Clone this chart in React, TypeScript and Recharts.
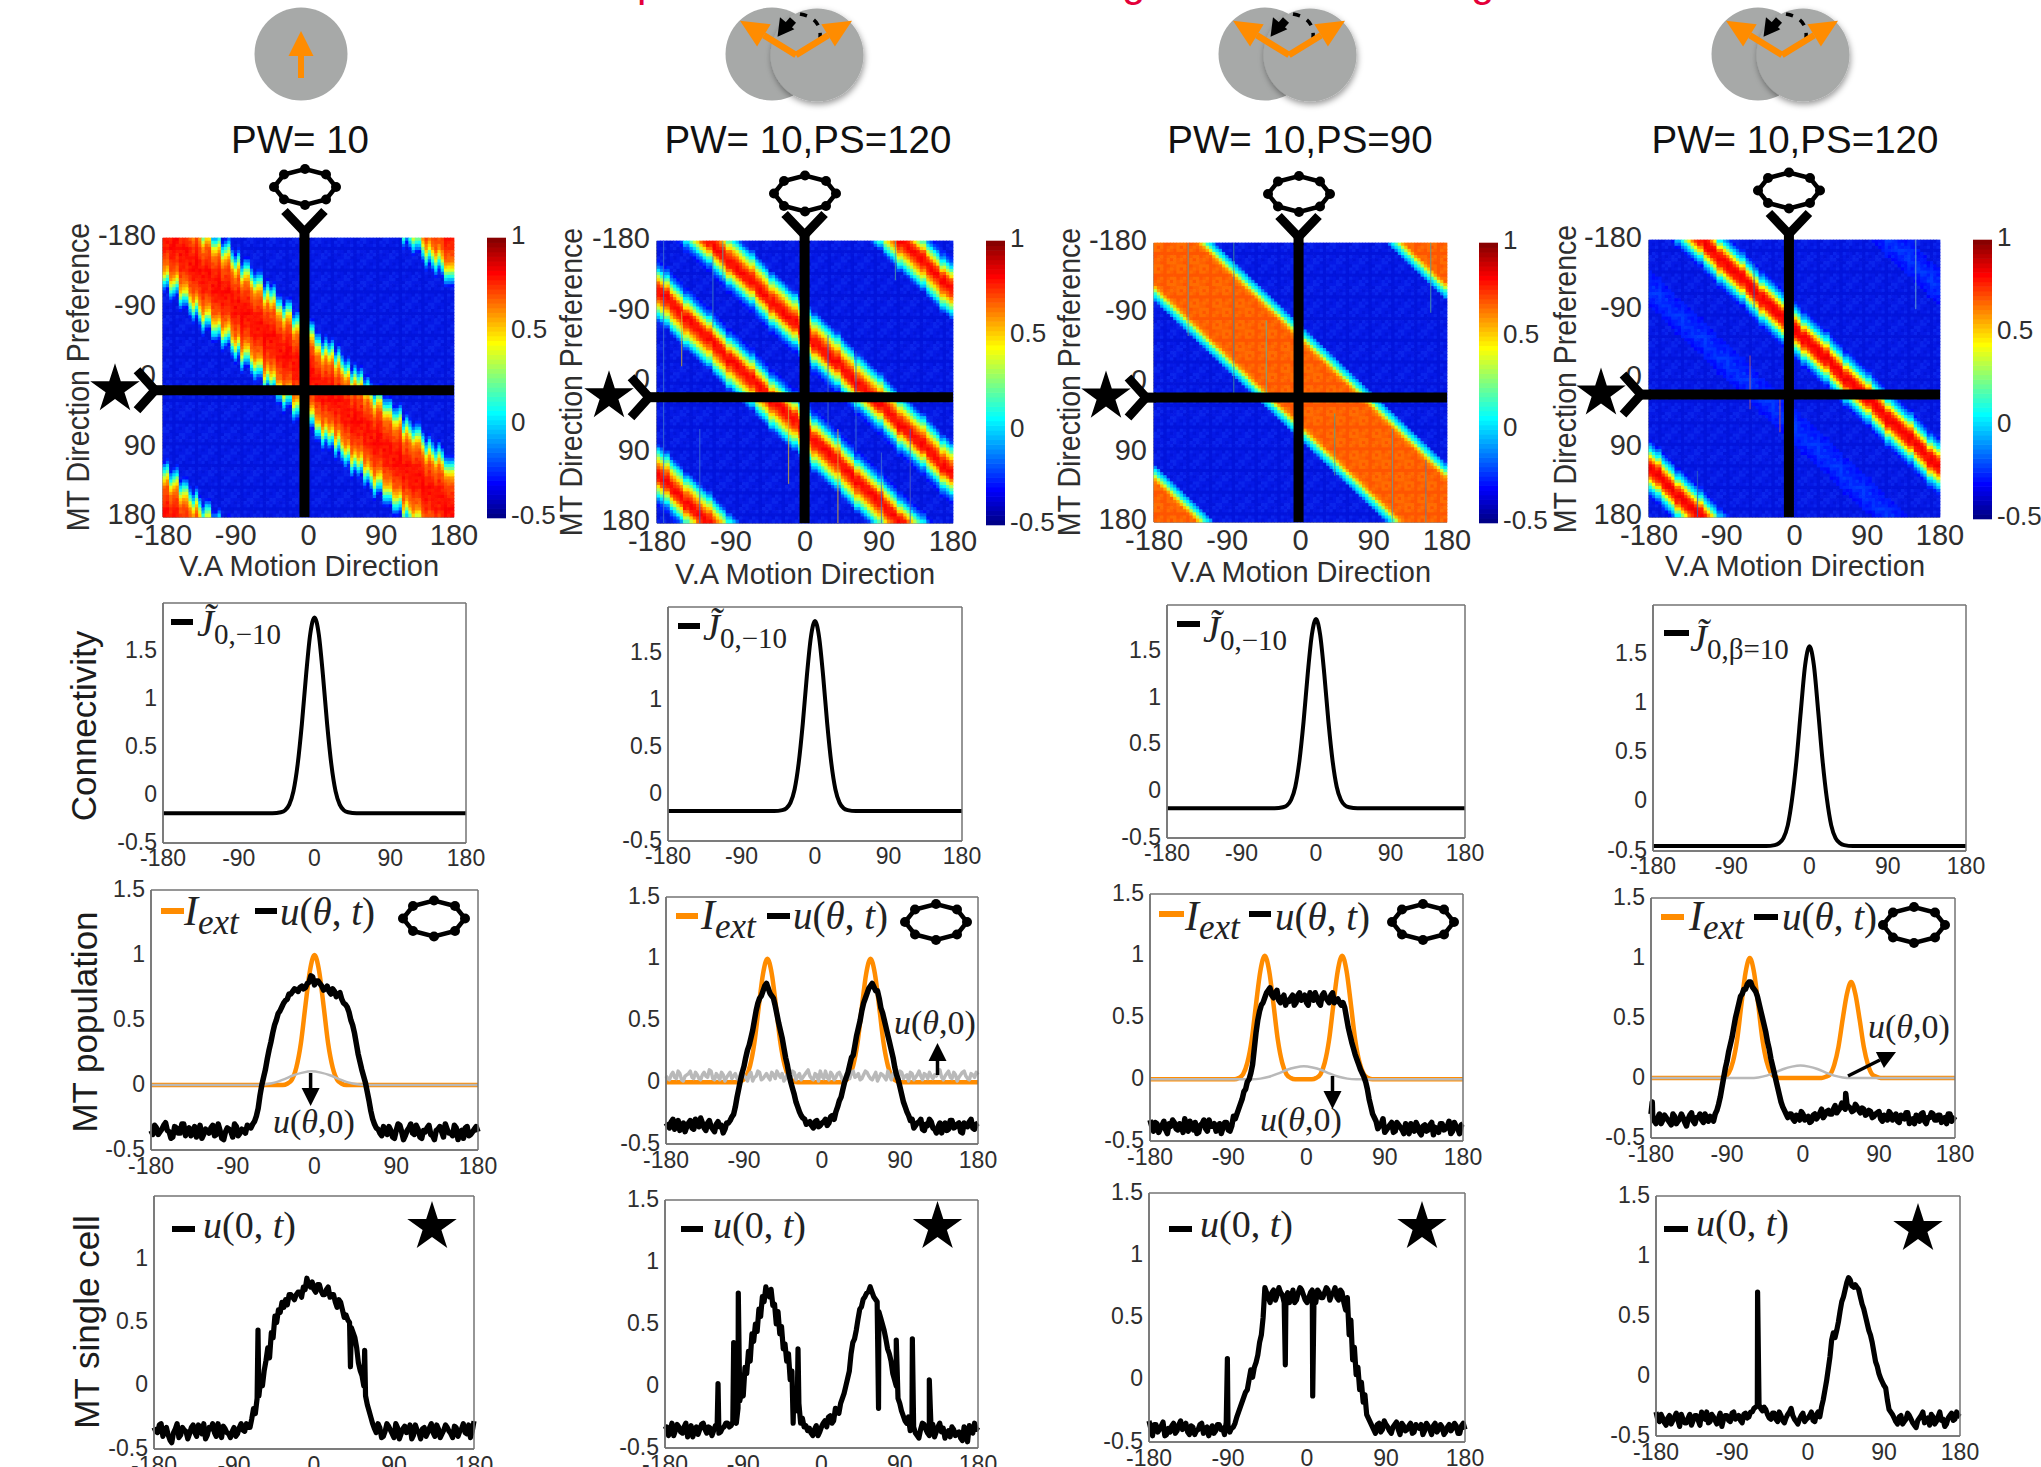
import React from "react";
import {
  Line,
  LineChart,
  Scatter,
  ScatterChart,
  XAxis,
  YAxis,
} from "recharts";

// Angles in degrees
const ANGLE_TICKS = [-180, -90, 0, 90, 180];
const KERNEL_TICKS = [-0.5, 0, 0.5, 1, 1.5];
const ACTIVITY_TICKS = [-0.5, 0, 0.5, 1, 1.5];
const ACTIVITY_TICKS_CUT = [-0.5, 0, 0.5, 1];
const COLORBAR_TICKS = [-0.5, 0, 0.5, 1];

const THETA = [
  -180, -176, -172, -168, -164, -160, -156, -152, -148, -144, -140, -136, -132, -128, -124, -120, -116, -112, -108, -104,
  -100, -96, -92, -88, -84, -80, -76, -72, -68, -64, -60, -56, -52, -48, -44, -40, -36, -32, -28, -24, -20, -16, -12, -8, -4,
  0, 4, 8, 12, 16, 20, 24, 28, 32, 36, 40, 44, 48, 52, 56, 60, 64, 68, 72, 76, 80, 84, 88, 92, 96, 100, 104, 108, 112, 116,
  120, 124, 128, 132, 136, 140, 144, 148, 152, 156, 160, 164, 168, 172, 176, 180,
];

// -178 .. 178: heatmap bins, and the in-between samples of the noisy curves
const HEAT_BINS = [
  -178, -174, -170, -166, -162, -158, -154, -150, -146, -142, -138, -134, -130, -126, -122, -118, -114, -110, -106, -102,
  -98, -94, -90, -86, -82, -78, -74, -70, -66, -62, -58, -54, -50, -46, -42, -38, -34, -30, -26, -22, -18, -14, -10, -6, -2,
  2, 6, 10, 14, 18, 22, 26, 30, 34, 38, 42, 46, 50, 54, 58, 62, 66, 70, 74, 78, 82, 86, 90, 94, 98, 102, 106, 110, 114, 118,
  122, 126, 130, 134, 138, 142, 146, 150, 154, 158, 162, 166, 170, 174, 178,
];

const COLORBAR_LEVELS = [
  -0.4875, -0.4625, -0.4375, -0.4125, -0.3875, -0.3625, -0.3375, -0.3125, -0.2875, -0.2625, -0.2375, -0.2125, -0.1875, -0.1625, -0.1375,
  -0.1125, -0.0875, -0.0625, -0.0375, -0.0125, 0.0125, 0.0375, 0.0625, 0.0875, 0.1125, 0.1375, 0.1625, 0.1875, 0.2125, 0.2375,
  0.2625, 0.2875, 0.3125, 0.3375, 0.3625, 0.3875, 0.4125, 0.4375, 0.4625, 0.4875, 0.5125, 0.5375, 0.5625, 0.5875, 0.6125,
  0.6375, 0.6625, 0.6875, 0.7125, 0.7375, 0.7625, 0.7875, 0.8125, 0.8375, 0.8625, 0.8875, 0.9125, 0.9375, 0.9625, 0.9875,
];

// Heatmap profiles: activity against (preference - motion direction), -180 .. 176 in 4 degree bins
const PROFILE_1 = [
  -0.33, -0.33, -0.33, -0.33, -0.33, -0.33, -0.33, -0.33, -0.33, -0.33, -0.33, -0.33, -0.33, -0.33, -0.33, -0.33, -0.33, -0.33, -0.33, -0.33, -0.33, -0.33, -0.33, -0.33, -0.33, -0.33, -0.33,
  -0.28, -0.15, -0.02, 0.1, 0.24, 0.38, 0.5, 0.58, 0.64, 0.68, 0.7, 0.72, 0.74, 0.76, 0.77, 0.78, 0.79, 0.8, 0.8, 0.79, 0.78, 0.77, 0.76, 0.74, 0.72, 0.7, 0.68, 0.64, 0.58, 0.5, 0.38, 0.24, 0.1, -0.02, -0.15, -0.28,
  -0.33, -0.33, -0.33, -0.33, -0.33, -0.33, -0.33, -0.33, -0.33, -0.33, -0.33, -0.33, -0.33, -0.33, -0.33, -0.33, -0.33, -0.33, -0.33, -0.33, -0.33, -0.33, -0.33, -0.33, -0.33, -0.33, -0.33,
];
const PROFILE_2 = [
  -0.33, -0.33, -0.33, -0.33, -0.33, -0.33, -0.33, -0.33, -0.33, -0.33, -0.33, -0.33, -0.33, -0.33, -0.33, -0.33, -0.33, -0.33,
  -0.33, -0.3, -0.2, -0.05, 0.08, 0.22, 0.36, 0.5, 0.62, 0.7, 0.76, 0.8, 0.8, 0.76, 0.66, 0.5, 0.34, 0.18, 0.04, -0.1, -0.2, -0.28, -0.32,
  -0.33, -0.33, -0.33, -0.33, -0.33, -0.33, -0.33, -0.33, -0.33,
  -0.32, -0.28, -0.2, -0.1, 0.04, 0.18, 0.34, 0.5, 0.66, 0.76, 0.8, 0.8, 0.76, 0.7, 0.62, 0.5, 0.36, 0.22, 0.08, -0.05, -0.2, -0.3,
  -0.33, -0.33, -0.33, -0.33, -0.33, -0.33, -0.33, -0.33, -0.33, -0.33, -0.33, -0.33, -0.33, -0.33, -0.33, -0.33, -0.33, -0.33,
];
const PROFILE_3 = [
  -0.36, -0.36, -0.36, -0.36, -0.36, -0.36, -0.36, -0.36, -0.36, -0.36, -0.36, -0.36, -0.36, -0.36, -0.36, -0.36, -0.36, -0.36, -0.36, -0.36, -0.36, -0.36, -0.36, -0.36, -0.36, -0.36,
  -0.3, -0.1, 0.02, 0.15, 0.35, 0.55, 0.65,
  0.67, 0.67, 0.67, 0.67, 0.67, 0.67, 0.67, 0.67, 0.67, 0.67, 0.67, 0.67, 0.67, 0.67, 0.67, 0.67, 0.67, 0.67, 0.67, 0.67, 0.67, 0.67, 0.67, 0.67, 0.67,
  0.65, 0.55, 0.35, 0.15, 0.02, -0.1, -0.3,
  -0.36, -0.36, -0.36, -0.36, -0.36, -0.36, -0.36, -0.36, -0.36, -0.36, -0.36, -0.36, -0.36, -0.36, -0.36, -0.36, -0.36, -0.36, -0.36, -0.36, -0.36, -0.36, -0.36, -0.36, -0.36,
];
const PROFILE_4 = [
  -0.33, -0.33, -0.33, -0.33, -0.33, -0.33, -0.33, -0.33, -0.33, -0.33, -0.33, -0.33, -0.33, -0.33, -0.33, -0.33, -0.33, -0.33, -0.33, -0.33,
  -0.28, -0.16, -0.04, 0.08, 0.26, 0.46, 0.62, 0.75, 0.8, 0.82, 0.8, 0.75, 0.62, 0.46, 0.26, 0.08, -0.04, -0.16, -0.28,
  -0.33, -0.33, -0.33, -0.33, -0.33, -0.33, -0.33, -0.33, -0.33, -0.33, -0.33, -0.33, -0.33, -0.33,
  -0.32, -0.31, -0.29, -0.28, -0.27, -0.26, -0.25, -0.24, -0.24, -0.25, -0.26, -0.27, -0.28, -0.29, -0.31, -0.32,
  -0.33, -0.33, -0.33, -0.33, -0.33, -0.33, -0.33, -0.33, -0.33, -0.33, -0.33, -0.33, -0.33, -0.33, -0.33, -0.33, -0.33, -0.33, -0.33, -0.33, -0.33,
];

// column by column wobble of the band edge, in bins
const WOBBLE_1 = [
  0, 2, -1, 1, 3, -1, 1, 2, 0, -1, 2, 0, -2, 1, 2, -1, 0, 2, -1, 1, 3, 0, -1, 2, -2, 1, 2, 0, -1, 1,
  2, -2, 1, 0, 2, -1, 0, -2, 1, 2, -2, 0, 1, -1, 0, 1, 2, -1, 0, -2, 1, 0, 2, -1, 2, 0, -1, 1, -2, 1,
  0, 2, -1, 1, 0, -2, 1, 2, -1, 0, 1, -1, 0, 2, -2, 1, 0, -1, 1, 2, 0, -2, 1, 0, -1, 2, 1, -1, 0, 1,
];
const WOBBLE_2 = [0, 0, 0, 1, 0, 0, 0, 0, -1, 0, 0, 0, 0];
const WOBBLE_NONE = [0];

// thin columns that fall out of the band: [direction, from preference, to preference, colour]
const STREAKS_2 = [
  [-172, -180, 180, "#3f6fd0"], [-150, -90, -20, "#d0b030"], [-112, -160, -70, "#4080c0"], [-128, 60, 180, "#3f6fd0"], [-100, -180, -130, "#50a0a0"],
  [-20, 30, 130, "#d0b030"], [28, -60, 60, "#3f6fd0"], [40, 60, 180, "#d8b030"], [62, -40, 90, "#3f6fd0"], [93, 90, 180, "#3f6fd0"], [128, 60, 180, "#5060c0"], [110, -180, -130, "#50a0a0"],
];
const STREAKS_3 = [
  [-138, -180, -60, "#60a0a0"], [-82, -180, 20, "#4090a0"], [-42, -80, 20, "#60b0a0"], [42, 40, 120, "#50a090"], [113, 60, 180, "#60a0a0"], [154, 100, 180, "#6080a0"], [160, -180, -90, "#50a0a0"],
];
const STREAKS_4 = [
  [-50, -150, -90, "#2060c0"], [-55, -30, 40, "#b06070"], [-18, 20, 70, "#c06060"], [150, -180, -90, "#70b0d0"], [-120, 120, 180, "#3060c0"], [-10, -110, -60, "#3060c0"],
];

// Connectivity kernel
const KERNEL_THETA = [-180, -50, -40, -35, -30, -25, -20, -15, -10, -5, 0, 5, 10, 15, 20, 25, 30, 35, 40, 50, 180];
const KERNEL_1 = [-0.19, -0.19, -0.18, -0.16, -0.1, 0.04, 0.32, 0.74, 1.25, 1.68, 1.85, 1.68, 1.25, 0.74, 0.32, 0.04, -0.1, -0.16, -0.18, -0.19, -0.19];
const KERNEL_2 = [-0.18, -0.18, -0.17, -0.15, -0.09, 0.05, 0.33, 0.75, 1.26, 1.68, 1.85, 1.68, 1.26, 0.75, 0.33, 0.05, -0.09, -0.15, -0.17, -0.18, -0.18];
const KERNEL_3 = [-0.18, -0.18, -0.17, -0.15, -0.09, 0.05, 0.33, 0.75, 1.26, 1.68, 1.85, 1.68, 1.26, 0.75, 0.33, 0.05, -0.09, -0.15, -0.17, -0.18, -0.18];
const KERNEL_4 = [-0.45, -0.45, -0.44, -0.42, -0.37, -0.24, 0.03, 0.42, 0.92, 1.39, 1.58, 1.39, 0.92, 0.42, 0.03, -0.24, -0.37, -0.42, -0.44, -0.45, -0.45];

// External input
const INPUT_THETA_1 = [-180, -35, -30, -25, -20, -15, -10, -5, 0, 5, 10, 15, 20, 25, 30, 35, 180];
const INPUT_1 = [0, 0, 0.01, 0.04, 0.135, 0.32, 0.61, 0.88, 1, 0.88, 0.61, 0.32, 0.135, 0.04, 0.01, 0, 0];
const INPUT_THETA_2 = [-180, -98, -93, -88, -83, -78, -73, -68, -63, -58, -53, -48, -43, -38, -33, -28, 21, 26, 31, 36, 41, 46, 51, 56, 61, 66, 71, 76, 81, 86, 91, 180];
const INPUT_2 = [0, 0, 0.01, 0.04, 0.135, 0.32, 0.61, 0.88, 1, 0.88, 0.61, 0.32, 0.135, 0.04, 0.01, 0, 0, 0.01, 0.04, 0.135, 0.32, 0.61, 0.88, 1, 0.88, 0.61, 0.32, 0.135, 0.04, 0.01, 0, 0];
const INPUT_THETA_3 = [-180, -83, -78, -73, -68, -63, -58, -53, -48, -43, -38, -33, -28, -23, -18, -13, 6, 11, 16, 21, 26, 31, 36, 41, 46, 51, 56, 61, 66, 71, 76, 180];
const INPUT_3 = [0, 0, 0.01, 0.04, 0.135, 0.32, 0.61, 0.88, 1, 0.88, 0.61, 0.32, 0.135, 0.04, 0.01, 0, 0, 0.01, 0.04, 0.135, 0.32, 0.61, 0.88, 1, 0.88, 0.61, 0.32, 0.135, 0.04, 0.01, 0, 0];
const INPUT_THETA_4 = [-180, -98, -93, -88, -83, -78, -73, -68, -63, -58, -53, -48, -43, -38, -33, -28, 22, 27, 32, 37, 42, 47, 52, 57, 62, 67, 72, 77, 82, 87, 92, 180];
const INPUT_4 = [0, 0, 0.01, 0.04, 0.135, 0.32, 0.61, 0.88, 1, 0.88, 0.61, 0.32, 0.135, 0.04, 0.01, 0, 0, 0.01, 0.03, 0.11, 0.26, 0.49, 0.7, 0.8, 0.7, 0.49, 0.26, 0.11, 0.03, 0.01, 0, 0];

// Initial state u(theta, 0)
const START_THETA = [-180, -63, -53, -43, -33, -23, -13, -3, 7, 17, 27, 37, 47, 57, 180];
const START_VALUES = [0, 0, 0.005, 0.02, 0.045, 0.075, 0.095, 0.105, 0.095, 0.075, 0.045, 0.02, 0.005, 0, 0];
const START_NOISY = [
  0.05, 0.02, 0.08, 0.03, 0.07, 0.01, 0.06, 0.09, 0.03, 0.06, 0.02, 0.08, 0.04, 0.09, 0.02, 0.05, 0.08, 0.01, 0.06, 0.03,
  0.07, 0.02, 0.09, 0.04, 0.06, 0.01, 0.05, 0.08, 0.03, 0.07, 0.02, 0.06, 0.09, 0.04, 0.01, 0.07, 0.03, 0.08, 0.05, 0.02,
  0.06, 0.1, 0.03, 0.07, 0.01, 0.05, 0.09, 0.02, 0.06, 0.04, 0.08, 0.01, 0.07, 0.03, 0.09, 0.05, 0.02, 0.06, 0.08, 0.03,
  0.05, 0.01, 0.07, 0.04, 0.09, 0.02, 0.06, 0.03, 0.08, 0.05, 0.01, 0.07, 0.04, 0.09, 0.02, 0.06, 0.08, 0.03, 0.05, 0.1,
  0.02, 0.07, 0.04, 0.08, 0.01, 0.06, 0.09, 0.03, 0.07, 0.04, 0.06,
];
const START_NOISY_FINE = [
  0.03, 0.06, 0.04, 0.09, 0.02, 0.05, 0.07, 0.04, 0.08, 0.03, 0.06, 0.05, 0.1, 0.03, 0.07, 0.02, 0.06, 0.04, 0.08, 0.05,
  0.03, 0.07, 0.05, 0.01, 0.08, 0.04, 0.09, 0.02, 0.05, 0.04, 0.08, 0.03, 0.06, 0.07, 0.03, 0.05, 0.09, 0.02, 0.07, 0.04,
  0.08, 0.05, 0.02, 0.06, 0.09, 0.03, 0.04, 0.08, 0.02, 0.07, 0.05, 0.03, 0.06, 0.08, 0.04, 0.07, 0.03, 0.09, 0.05, 0.02,
  0.08, 0.04, 0.06, 0.02, 0.05, 0.07, 0.04, 0.09, 0.03, 0.06, 0.08, 0.02, 0.06, 0.05, 0.07, 0.03, 0.05, 0.06, 0.08, 0.04,
  0.05, 0.09, 0.03, 0.06, 0.04, 0.08, 0.05, 0.02, 0.06, 0.08,
];

// Population activity u(theta, t), on THETA and on HEAT_BINS
const POPULATION_1 = [
  -0.35, -0.31, -0.38, -0.34, -0.29, -0.36, -0.4, -0.33, -0.37, -0.3, -0.35, -0.39, -0.32, -0.36, -0.41, -0.34, -0.37, -0.31, -0.38, -0.35, -0.42, -0.33, -0.36, -0.3, -0.39, -0.34, -0.37, -0.32, -0.3,
  -0.24, -0.08, 0.06, 0.2, 0.33, 0.46, 0.55, 0.6, 0.65, 0.7, 0.72, 0.73, 0.75, 0.74, 0.78, 0.84, 0.77, 0.8, 0.76, 0.74, 0.72, 0.74, 0.68, 0.71, 0.63, 0.6, 0.5, 0.4, 0.24, 0.12, 0.02, -0.12, -0.26, -0.33,
  -0.37, -0.32, -0.38, -0.35, -0.41, -0.3, -0.36, -0.39, -0.33, -0.37, -0.31, -0.4, -0.35, -0.33, -0.38, -0.42, -0.34, -0.36, -0.3, -0.37, -0.39, -0.33, -0.36, -0.41, -0.32, -0.38, -0.34, -0.36,
];
const POPULATION_FINE_1 = [
  -0.38, -0.33, -0.36, -0.31, -0.35, -0.41, -0.32, -0.37, -0.3, -0.39, -0.33, -0.36, -0.4, -0.31, -0.38, -0.35, -0.33, -0.39, -0.3, -0.41, -0.36, -0.34, -0.4, -0.32, -0.37, -0.35, -0.31, -0.33,
  -0.28, -0.18, 0, 0.12, 0.27, 0.4, 0.5, 0.57, 0.63, 0.66, 0.7, 0.74, 0.72, 0.76, 0.75, 0.79, 0.83, 0.8, 0.78, 0.73, 0.76, 0.7, 0.72, 0.7, 0.66, 0.62, 0.56, 0.46, 0.32, 0.18, 0.07, -0.05, -0.2, -0.3,
  -0.34, -0.39, -0.36, -0.32, -0.4, -0.35, -0.31, -0.42, -0.35, -0.3, -0.38, -0.34, -0.41, -0.36, -0.31, -0.39, -0.35, -0.32, -0.4, -0.34, -0.37, -0.31, -0.42, -0.35, -0.33, -0.39, -0.36, -0.32,
];
const POPULATION_2 = [
  -0.33, -0.37, -0.3, -0.35, -0.39, -0.33, -0.36, -0.31, -0.38, -0.34, -0.29, -0.37, -0.33, -0.36, -0.4, -0.32, -0.35, -0.38,
  -0.33, -0.28, -0.2, -0.05, 0.08, 0.2, 0.3, 0.42, 0.58, 0.68, 0.74, 0.8, 0.72, 0.68, 0.55, 0.42, 0.28, 0.14, 0, -0.1, -0.2, -0.27, -0.3, -0.33, -0.35, -0.32, -0.36, -0.33, -0.3, -0.33, -0.27, -0.24, -0.15, -0.06, 0.04, 0.14, 0.22, 0.38, 0.5, 0.64, 0.72, 0.78, 0.77, 0.74, 0.6, 0.5, 0.38, 0.26, 0.12, 0.02, -0.1, -0.2, -0.27, -0.3,
  -0.35, -0.32, -0.38, -0.34, -0.3, -0.37, -0.41, -0.33, -0.36, -0.39, -0.31, -0.37, -0.34, -0.4, -0.33, -0.36, -0.3, -0.38, -0.33,
];
const POPULATION_FINE_2 = [
  -0.35, -0.32, -0.38, -0.31, -0.36, -0.4, -0.33, -0.37, -0.3, -0.36, -0.33, -0.39, -0.31, -0.38, -0.34, -0.36, -0.41, -0.33,
  -0.31, -0.26, -0.12, 0.02, 0.13, 0.26, 0.36, 0.5, 0.64, 0.7, 0.78, 0.76, 0.7, 0.62, 0.48, 0.36, 0.2, 0.06, -0.05, -0.16, -0.24, -0.29, -0.34, -0.32, -0.37, -0.31, -0.35, -0.32, -0.35, -0.28, -0.3, -0.2, -0.12, 0, 0.08, 0.2, 0.3, 0.44, 0.58, 0.68, 0.76, 0.8, 0.74, 0.68, 0.56, 0.44, 0.32, 0.2, 0.06, -0.04, -0.16, -0.24, -0.31,
  -0.37, -0.33, -0.3, -0.39, -0.35, -0.32, -0.38, -0.36, -0.41, -0.33, -0.38, -0.31, -0.36, -0.33, -0.41, -0.35, -0.32, -0.37, -0.34,
];
const POPULATION_3 = [
  -0.33, -0.42, -0.36, -0.4, -0.34, -0.44, -0.38, -0.35, -0.41, -0.37, -0.32, -0.42, -0.39, -0.35, -0.43, -0.36, -0.4, -0.33, -0.38, -0.42, -0.36, -0.39, -0.35,
  -0.42, -0.3, -0.28, -0.2, -0.1, -0.02, 0.05, 0.25, 0.48, 0.6, 0.66, 0.72, 0.68, 0.7, 0.64, 0.66, 0.6, 0.63, 0.68, 0.62, 0.7, 0.66, 0.62, 0.7, 0.64, 0.66, 0.6, 0.7, 0.64, 0.68, 0.62, 0.65, 0.6, 0.58, 0.42, 0.3, 0.2, 0.12, 0.05, -0.02, -0.16, -0.28,
  -0.34, -0.38, -0.32, -0.41, -0.37, -0.43, -0.35, -0.39, -0.44, -0.4, -0.36, -0.42, -0.38, -0.45, -0.37, -0.41, -0.35, -0.39, -0.43, -0.36, -0.4, -0.34, -0.42, -0.38, -0.44, -0.36,
];
const POPULATION_FINE_3 = [
  -0.38, -0.35, -0.43, -0.37, -0.41, -0.36, -0.33, -0.4, -0.36, -0.43, -0.38, -0.34, -0.41, -0.44, -0.37, -0.33, -0.42, -0.38, -0.36, -0.4, -0.44, -0.35, -0.41,
  -0.38, -0.32, -0.24, -0.16, -0.08, 0, 0.12, 0.38, 0.55, 0.62, 0.7, 0.74, 0.66, 0.72, 0.62, 0.68, 0.64, 0.66, 0.6, 0.68, 0.64, 0.68, 0.6, 0.66, 0.7, 0.62, 0.68, 0.66, 0.62, 0.7, 0.64, 0.62, 0.62, 0.5, 0.36, 0.25, 0.16, 0.08, 0.02, -0.08, -0.22,
  -0.31, -0.4, -0.36, -0.43, -0.39, -0.35, -0.42, -0.37, -0.41, -0.36, -0.44, -0.4, -0.35, -0.43, -0.38, -0.42, -0.37, -0.45, -0.4, -0.36, -0.41, -0.38, -0.44, -0.35, -0.4, -0.37,
];
const POPULATION_4 = [
  -0.3, -0.36, -0.33, -0.38, -0.31, -0.35, -0.39, -0.32, -0.36, -0.3, -0.37, -0.34, -0.29, -0.38, -0.33, -0.35, -0.3, -0.36,
  -0.33, -0.3, -0.22, -0.08, 0.08, 0.22, 0.34, 0.5, 0.62, 0.7, 0.74, 0.8, 0.76, 0.72, 0.62, 0.5, 0.38, 0.24, 0.1, -0.02, -0.14, -0.24, -0.3, -0.3,
  -0.34, -0.31, -0.35, -0.3, -0.33, -0.37, -0.31, -0.34, -0.29, -0.33, -0.28, -0.3, -0.26, -0.29, -0.25, -0.24, -0.22, -0.25, -0.27, -0.24, -0.29, -0.26, -0.3, -0.28, -0.32, -0.29, -0.34, -0.31, -0.35, -0.3, -0.33, -0.36, -0.31, -0.34, -0.29, -0.35, -0.38, -0.32, -0.3, -0.36, -0.33, -0.29, -0.35, -0.31, -0.37, -0.33, -0.3, -0.36, -0.32,
];
const POPULATION_FINE_4 = [
  -0.33, -0.38, -0.3, -0.35, -0.33, -0.37, -0.3, -0.38, -0.34, -0.33, -0.4, -0.31, -0.36, -0.33, -0.3, -0.37, -0.35, -0.32,
  -0.36, -0.27, -0.16, 0, 0.14, 0.28, 0.42, 0.56, 0.68, 0.74, 0.78, 0.8, 0.74, 0.68, 0.56, 0.44, 0.3, 0.16, 0.04, -0.08, -0.2, -0.27, -0.33,
  -0.3, -0.36, -0.33, -0.28, -0.35, -0.32, -0.36, -0.3, -0.32, -0.26, -0.31, -0.27, -0.3, -0.23, -0.27, -0.21, -0.26, -0.24, -0.28, -0.22, -0.27, -0.25, -0.31, -0.27, -0.33, -0.3, -0.28, -0.36, -0.32, -0.28, -0.35, -0.3, -0.37, -0.33, -0.29, -0.38, -0.34, -0.31, -0.36, -0.29, -0.38, -0.33, -0.3, -0.35, -0.31, -0.34, -0.38, -0.3, -0.34,
];
const POPULATION_SPIKES_4 = [[-178.5, -0.2], [50.6, -0.13]];

// Single cell activity u(0, t), on THETA and HEAT_BINS, and single sample spikes as [theta, value]
const SINGLE_1 = [
  -0.33, -0.37, -0.3, -0.35, -0.39, -0.45, -0.34, -0.41, -0.33, -0.36, -0.38, -0.31, -0.4, -0.35, -0.3, -0.39, -0.34, -0.37, -0.3, -0.41, -0.34, -0.38, -0.36, -0.4, -0.33, -0.35, -0.3,
  -0.33, -0.18, -0.1, 0.05, 0.12, 0.3, 0.42, 0.55, 0.6, 0.66, 0.68, 0.72, 0.7, 0.72, 0.74, 0.78, 0.85, 0.78, 0.76, 0.8, 0.75, 0.72, 0.78, 0.72, 0.66, 0.68, 0.6, 0.56, 0.5, 0.42, 0.3, 0.12, 0, -0.15, -0.25,
  -0.34, -0.3, -0.41, -0.36, -0.32, -0.38, -0.3, -0.42, -0.34, -0.37, -0.31, -0.39, -0.35, -0.42, -0.33, -0.37, -0.3, -0.4, -0.34, -0.38, -0.31, -0.36, -0.41, -0.33, -0.36, -0.3, -0.38, -0.41, -0.28,
];
const SINGLE_FINE_1 = [
  -0.36, -0.31, -0.4, -0.33, -0.43, -0.37, -0.3, -0.39, -0.35, -0.42, -0.33, -0.37, -0.31, -0.38, -0.42, -0.33, -0.3, -0.4, -0.36, -0.32, -0.37, -0.41, -0.33, -0.38, -0.3, -0.36, -0.33,
  -0.26, -0.22, -0.08, 0, 0.2, 0.22, 0.38, 0.5, 0.58, 0.62, 0.64, 0.72, 0.68, 0.74, 0.7, 0.76, 0.8, 0.82, 0.74, 0.8, 0.72, 0.76, 0.7, 0.72, 0.62, 0.66, 0.54, 0.52, 0.46, 0.38, 0.18, 0.08, -0.08, -0.2,
  -0.3, -0.37, -0.33, -0.4, -0.3, -0.35, -0.41, -0.33, -0.38, -0.32, -0.36, -0.42, -0.31, -0.37, -0.34, -0.4, -0.33, -0.37, -0.31, -0.41, -0.35, -0.33, -0.38, -0.32, -0.4, -0.34, -0.37, -0.31, -0.36,
];
const SINGLE_SPIKES_1 = [[-63, 0.44], [41, 0.15], [57, 0.28]];
const SINGLE_2 = [
  -0.35, -0.4, -0.3, -0.36, -0.33, -0.38, -0.3, -0.37, -0.41, -0.33, -0.35, -0.3, -0.38, -0.34, -0.36, -0.31, -0.37, -0.33,
  -0.3, -0.32, -0.28, -0.18, -0.05, 0.15, 0.28, 0.42, 0.5, 0.62, 0.72, 0.8, 0.72, 0.65, 0.5, 0.42, 0.3, 0.2, 0.05, -0.1, -0.2, -0.3, -0.33, -0.36, -0.38, -0.35, -0.4, -0.33, -0.28, -0.25, -0.3, -0.18, -0.22, -0.1, 0, 0.12, 0.35, 0.45, 0.62, 0.7, 0.75, 0.8, 0.72, 0.68, 0.55, 0.45, 0.3, 0.2, 0.05, -0.1, -0.2, -0.28, -0.25,
  -0.32, -0.38, -0.42, -0.3, -0.35, -0.4, -0.31, -0.37, -0.3, -0.34, -0.38, -0.41, -0.35, -0.38, -0.42, -0.33, -0.45, -0.36, -0.3, -0.33,
];
const SINGLE_FINE_2 = [
  -0.33, -0.36, -0.4, -0.31, -0.37, -0.33, -0.41, -0.32, -0.36, -0.39, -0.31, -0.35, -0.33, -0.4, -0.32, -0.38, -0.34, -0.3,
  -0.33, -0.29, -0.3, -0.12, -0.08, 0.1, 0.2, 0.36, 0.44, 0.56, 0.68, 0.74, 0.78, 0.66, 0.6, 0.48, 0.34, 0.26, 0.12, -0.02, -0.14, -0.26, -0.32, -0.34, -0.4, -0.32, -0.37, -0.3, -0.33, -0.24, -0.28, -0.2, -0.14, -0.06, 0.06, 0.26, 0.38, 0.54, 0.64, 0.72, 0.76, 0.76, 0.7, 0.6, 0.5, 0.38, 0.26, 0.1, 0, -0.14, -0.24, -0.3,
  -0.36, -0.33, -0.4, -0.35, -0.31, -0.38, -0.34, -0.41, -0.33, -0.37, -0.42, -0.36, -0.33, -0.4, -0.37, -0.44, -0.35, -0.32, -0.38, -0.35,
];
const SINGLE_SPIKES_2 = [[-119, 0.02], [-101, 0.35], [-95.7, 0.75], [-32.6, -0.3], [-27, 0.3], [65.6, -0.18], [86, 0.37], [104.5, 0.38], [124, 0.05]];
const SINGLE_3 = [
  -0.33, -0.45, -0.36, -0.4, -0.34, -0.44, -0.42, -0.35, -0.41, -0.33, -0.38, -0.42, -0.37, -0.44, -0.4, -0.35, -0.39, -0.45, -0.37, -0.41, -0.36, -0.39, -0.34, -0.42,
  -0.38, -0.3, -0.22, -0.14, -0.08, 0.08, 0.1, 0.2, 0.36, 0.74, 0.66, 0.7, 0.64, 0.74, 0.68, 0.66, 0.62, 0.72, 0.64, 0.74, 0.68, 0.62, 0.7, 0.66, 0.72, 0.66, 0.7, 0.72, 0.68, 0.74, 0.64, 0.7, 0.56, 0.36, 0.16, 0.04, -0.08, -0.18, -0.28,
  -0.34, -0.4, -0.36, -0.42, -0.33, -0.38, -0.43, -0.36, -0.4, -0.35, -0.41, -0.37, -0.43, -0.36, -0.39, -0.44, -0.35, -0.4, -0.37, -0.42, -0.36, -0.44, -0.38, -0.41, -0.35, -0.43, -0.37, -0.4,
];
const SINGLE_FINE_3 = [
  -0.39, -0.36, -0.42, -0.37, -0.45, -0.39, -0.37, -0.43, -0.36, -0.4, -0.35, -0.44, -0.38, -0.41, -0.36, -0.43, -0.38, -0.41, -0.43, -0.36, -0.4, -0.44, -0.37, -0.39,
  -0.35, -0.26, -0.18, -0.1, 0, 0.02, 0.14, 0.3, 0.5, 0.7, 0.62, 0.72, 0.68, 0.7, 0.62, 0.7, 0.66, 0.62, 0.7, 0.72, 0.64, 0.66, 0.72, 0.62, 0.7, 0.66, 0.74, 0.64, 0.7, 0.66, 0.72, 0.62, 0.66, 0.48, 0.26, 0.1, -0.02, -0.12,
  -0.31, -0.37, -0.43, -0.35, -0.4, -0.36, -0.41, -0.38, -0.34, -0.44, -0.37, -0.4, -0.35, -0.42, -0.38, -0.36, -0.41, -0.37, -0.44, -0.35, -0.4, -0.38, -0.42, -0.36, -0.39, -0.37, -0.43, -0.35,
];
const SINGLE_SPIKES_3 = [[-90.7, 0.17], [-24.7, 0.12], [6.5, -0.13]];
const SINGLE_4 = [
  -0.3, -0.38, -0.35, -0.41, -0.33, -0.37, -0.31, -0.42, -0.36, -0.39, -0.32, -0.37, -0.33, -0.41, -0.35, -0.3, -0.38, -0.34, -0.4, -0.31, -0.36, -0.33, -0.38, -0.3, -0.35, -0.37, -0.32, -0.35, -0.3,
  -0.27, -0.25, -0.27, -0.26, -0.32, -0.36, -0.31, -0.38, -0.33, -0.39, -0.32, -0.27, -0.36, -0.4, -0.33, -0.38, -0.35, -0.3, -0.38, -0.3, -0.26, -0.12, 0.06, 0.3, 0.32, 0.45, 0.62, 0.72, 0.82, 0.75, 0.76, 0.72, 0.6, 0.5, 0.38, 0.28, 0.12, 0.02, -0.05, -0.1, -0.28, -0.32,
  -0.38, -0.34, -0.4, -0.36, -0.33, -0.39, -0.43, -0.35, -0.3, -0.37, -0.41, -0.34, -0.38, -0.3, -0.36, -0.4, -0.33, -0.37, -0.3, -0.34,
];
const SINGLE_FINE_4 = [
  -0.36, -0.32, -0.39, -0.35, -0.4, -0.34, -0.37, -0.32, -0.39, -0.35, -0.41, -0.33, -0.37, -0.3, -0.36, -0.39, -0.32, -0.37, -0.35, -0.42, -0.33, -0.37, -0.31, -0.36, -0.33, -0.39, -0.31, -0.34,
  -0.3, -0.26, -0.24, -0.29, -0.28, -0.35, -0.31, -0.36, -0.3, -0.37, -0.35, -0.3, -0.33, -0.38, -0.36, -0.31, -0.36, -0.33, -0.37, -0.32, -0.34, -0.2, -0.04, 0.16, 0.36, 0.38, 0.54, 0.66, 0.78, 0.8, 0.74, 0.74, 0.66, 0.56, 0.44, 0.34, 0.2, 0.08, -0.02, -0.08, -0.2, -0.3,
  -0.35, -0.4, -0.33, -0.38, -0.31, -0.36, -0.41, -0.37, -0.33, -0.39, -0.35, -0.32, -0.4, -0.34, -0.37, -0.42, -0.35, -0.31, -0.36, -0.33,
];
const SINGLE_SPIKES_4 = [[-59.7, 0.7]];

const SANS = "'Liberation Sans', Arial, sans-serif";
const SERIF = "'Liberation Serif', serif";
const INK = "#2e2e2e";
const FRAME = "#737373";
const ORANGE = "#ff8c00";
const GRAY_LINE = "#b9b9b9";
const LOW_BLUES = ["#0519e6", "#0a24ec", "#0214dc"];

function jet(v) {
  const t = Math.max(0, Math.min(1, (v + 0.5) / 1.5));
  const ch = (c) => Math.round(255 * Math.max(0, Math.min(1, 1.5 - Math.abs(4 * t - c))));
  return `rgb(${ch(3)},${ch(2)},${ch(1)})`;
}

// the fine speckle of the image, a fixed pattern and not data
function heatFill(v, grain) {
  if (v <= -0.3) return LOW_BLUES[grain];
  return jet(v + (grain - 1) * 0.018);
}

function heatCells(profile, wobble) {
  const cells = [];
  HEAT_BINS.forEach((x, col) => {
    const shift = wobble[col % wobble.length];
    HEAT_BINS.forEach((y, row) => {
      const idx = (((row - col + 45 + shift) % 90) + 90) % 90;
      cells.push({ x, y, v: profile[idx], g: ((col * 31 + row * 17 + col * row * 13) % 7) % 3 });
    });
  });
  return cells;
}

function series(xs, ys) {
  return xs.map((x, i) => ({ x, y: ys[i] }));
}

function noisy(ys, fine, spikes) {
  const rows = [...series(THETA, ys), ...series(HEAT_BINS, fine)];
  spikes.forEach((s) => rows.push({ x: s[0], y: s[1] }));
  return rows.sort((a, b) => a.x - b.x);
}

const NO_MARK = () => <g />;

// Inward tick marks and the closed box of the matlab axes
function frameAxes(yDomain, yTicks) {
  const line = { stroke: FRAME, strokeWidth: 1.5 };
  const xAxis = { type: "number", domain: [-180, 180], ticks: ANGLE_TICKS, interval: 0, tick: NO_MARK, tickLine: line, axisLine: line, tickSize: 6, height: 1, mirror: true };
  const yAxis = { type: "number", domain: yDomain, ticks: yTicks, interval: 0, tick: NO_MARK, tickLine: line, axisLine: line, tickSize: 6, width: 1, mirror: true };
  return [
    <XAxis key="xb" xAxisId="xb" orientation="bottom" {...xAxis} />,
    <XAxis key="xt" xAxisId="xt" orientation="top" {...xAxis} />,
    <YAxis key="yl" yAxisId="yl" orientation="left" {...yAxis} />,
    <YAxis key="yr" yAxisId="yr" orientation="right" {...yAxis} />,
  ];
}

const PAD_LEFT = 70;
const PAD_TOP = 24;
const PAD_RIGHT = 40;
const PAD_BOTTOM = 54;

function Placed({ box, children }) {
  return (
    <div style={{ position: "absolute", left: box.x - PAD_LEFT, top: box.y - PAD_TOP }}>
      {children}
    </div>
  );
}

function HeatPanel({ box, profile, wobble, streaks, crossX, crossY }) {
  const cw = box.w / 90 + 0.7;
  const ch = box.h / 90 + 0.7;
  const shape = (p) => (
    <rect x={p.cx - cw / 2} y={p.cy - ch / 2} width={cw} height={ch} fill={heatFill(p.payload.v, p.payload.g)} />
  );
  return (
    <Placed box={box}>
      <ScatterChart
        width={box.w + PAD_LEFT + PAD_RIGHT}
        height={box.h + PAD_TOP + PAD_BOTTOM}
        margin={{ top: PAD_TOP, right: PAD_RIGHT, left: 0, bottom: 0 }}
      >
        <XAxis
          type="number"
          dataKey="x"
          domain={[-180, 180]}
          ticks={ANGLE_TICKS}
          interval={0}
          height={PAD_BOTTOM}
          tickLine={false}
          tickSize={0}
          tickMargin={7}
          axisLine={{ stroke: FRAME, strokeWidth: 1.5 }}
          tick={{ fontSize: 29, fill: INK, fontFamily: SANS }}
        />
        <YAxis
          type="number"
          dataKey="y"
          reversed
          domain={[-180, 180]}
          ticks={ANGLE_TICKS}
          interval={0}
          width={PAD_LEFT}
          tickLine={false}
          tickSize={0}
          tickMargin={7}
          axisLine={{ stroke: FRAME, strokeWidth: 1.5 }}
          tick={{ fontSize: 29, fill: INK, fontFamily: SANS, dy: -3 }}
        />
        <Scatter data={heatCells(profile, wobble)} isAnimationActive={false} shape={shape} />
        {streaks.map((s, i) => (
          <Scatter
            key={i}
            data={[{ x: s[0], y: s[1] }, { x: s[0], y: s[2] }]}
            line={{ stroke: s[3], strokeWidth: 1.2, strokeOpacity: 0.75 }}
            shape={NO_MARK}
            isAnimationActive={false}
          />
        ))}
        <Scatter
          data={[{ x: crossX, y: -180 }, { x: crossX, y: 180 }]}
          line={{ stroke: "#000", strokeWidth: 10 }}
          shape={NO_MARK}
          isAnimationActive={false}
        />
        <Scatter
          data={[{ x: -180, y: crossY }, { x: 180, y: crossY }]}
          line={{ stroke: "#000", strokeWidth: 10 }}
          shape={NO_MARK}
          isAnimationActive={false}
        />
      </ScatterChart>
    </Placed>
  );
}

function ColorBar({ box }) {
  const data = COLORBAR_LEVELS.map((v) => ({ x: 0.5, y: v }));
  const ch = box.h / COLORBAR_LEVELS.length + 0.6;
  const shape = (p) => (
    <rect x={p.cx - box.w / 2} y={p.cy - ch / 2} width={box.w} height={ch} fill={jet(p.payload.y)} />
  );
  return (
    <div style={{ position: "absolute", left: box.x, top: box.y - PAD_TOP }}>
      <ScatterChart
        width={box.w + 70}
        height={box.h + PAD_TOP * 2}
        margin={{ top: PAD_TOP, right: 0, left: 0, bottom: PAD_TOP }}
      >
        <XAxis type="number" dataKey="x" domain={[0, 1]} hide />
        <YAxis
          type="number"
          dataKey="y"
          orientation="right"
          domain={[-0.5, 1]}
          ticks={COLORBAR_TICKS}
          interval={0}
          width={70}
          axisLine={false}
          tickLine={false}
          tickSize={0}
          tickMargin={5}
          tick={{ fontSize: 26, fill: INK, fontFamily: SANS, dy: -3 }}
        />
        <Scatter data={data} isAnimationActive={false} shape={shape} />
      </ScatterChart>
    </div>
  );
}

function CurvePanel({ box, yDomain, yTicks, fontSize, xMargin, curves }) {
  return (
    <Placed box={box}>
      <LineChart
        width={box.w + PAD_LEFT + PAD_RIGHT}
        height={box.h + PAD_TOP + PAD_BOTTOM}
        margin={{ top: PAD_TOP, right: PAD_RIGHT, left: 0, bottom: 0 }}
      >
        <XAxis
          type="number"
          dataKey="x"
          domain={[-180, 180]}
          ticks={ANGLE_TICKS}
          interval={0}
          height={PAD_BOTTOM}
          tickLine={false}
          tickSize={0}
          tickMargin={xMargin}
          axisLine={{ stroke: FRAME, strokeWidth: 1.5 }}
          tick={{ fontSize, fill: INK, fontFamily: SANS }}
        />
        <YAxis
          type="number"
          domain={yDomain}
          ticks={yTicks}
          interval={0}
          width={PAD_LEFT}
          tickLine={false}
          tickSize={0}
          tickMargin={6}
          axisLine={{ stroke: FRAME, strokeWidth: 1.5 }}
          tick={{ fontSize, fill: INK, fontFamily: SANS, dy: -1.5 }}
        />
        {frameAxes(yDomain, yTicks)}
        {curves.map((c, i) => (
          <Line
            key={i}
            data={c.data}
            dataKey="y"
            type={c.type || "linear"}
            stroke={c.color}
            strokeWidth={c.width}
            strokeLinejoin="round"
            dot={false}
            isAnimationActive={false}
          />
        ))}
      </LineChart>
    </Placed>
  );
}

// Panel placement, in page pixels
const HEAT_BOXES = [
  { x: 163, y: 238, w: 291, h: 279 },
  { x: 657, y: 241, w: 296, h: 282 },
  { x: 1154, y: 243, w: 293, h: 279 },
  { x: 1649, y: 240, w: 291, h: 277 },
];
const BAR_BOXES = [
  { x: 487, y: 238, w: 19, h: 280 },
  { x: 986, y: 241, w: 19, h: 284 },
  { x: 1479, y: 243, w: 19, h: 280 },
  { x: 1973, y: 240, w: 19, h: 279 },
];
const KERNEL_BOXES = [
  { x: 163, y: 603, w: 303, h: 240 },
  { x: 668, y: 607, w: 294, h: 234 },
  { x: 1167, y: 605, w: 298, h: 233 },
  { x: 1653, y: 605, w: 313, h: 246 },
];
const POP_BOXES = [
  { x: 151, y: 890, w: 327, h: 260 },
  { x: 666, y: 897, w: 312, h: 247 },
  { x: 1150, y: 894, w: 313, h: 247 },
  { x: 1651, y: 898, w: 304, h: 240 },
];
const SINGLE_BOXES = [
  { x: 154, y: 1196, w: 320, h: 253 },
  { x: 665, y: 1200, w: 313, h: 248 },
  { x: 1149, y: 1193, w: 316, h: 249 },
  { x: 1656, y: 1196, w: 304, h: 240 },
];
const CROSS_X = [-5, -0.5, -2.4, -6.9];
const CROSS_Y = [16.4, 19.4, 19.5, 20.9];
const PROFILES = [PROFILE_1, PROFILE_2, PROFILE_3, PROFILE_4];
const WOBBLES = [WOBBLE_1, WOBBLE_2, WOBBLE_NONE, WOBBLE_2];
const STREAKS = [[], STREAKS_2, STREAKS_3, STREAKS_4];
const TITLES = ["PW= 10", "PW= 10,PS=120", "PW= 10,PS=90", "PW= 10,PS=120"];
const TITLE_X = [300, 808, 1300, 1795];
const XLABEL = [[309, 576], [805, 584], [1301, 582], [1795, 576]];
const YLABEL = [[89, 377], [582, 382], [1080, 382], [1576, 379]];
const VERTEX_X = [796, 1289, 1782];
const RING_TOP = [[305, 187], [805, 193.5], [1299, 194], [1789, 190.5]];
const RING_POP = [[434, 918.5], [936, 922], [1423, 922], [1914, 925]];
const KERNEL_CURVES = [KERNEL_1, KERNEL_2, KERNEL_3, KERNEL_4];
const INPUTS = [[INPUT_THETA_1, INPUT_1], [INPUT_THETA_2, INPUT_2], [INPUT_THETA_3, INPUT_3], [INPUT_THETA_4, INPUT_4]];
const POPULATIONS = [POPULATION_1, POPULATION_2, POPULATION_3, POPULATION_4];
const POPULATIONS_FINE = [POPULATION_FINE_1, POPULATION_FINE_2, POPULATION_FINE_3, POPULATION_FINE_4];
const POP_SPIKES = [[], [], [], POPULATION_SPIKES_4];
const SINGLES = [SINGLE_1, SINGLE_2, SINGLE_3, SINGLE_4];
const SINGLES_FINE = [SINGLE_FINE_1, SINGLE_FINE_2, SINGLE_FINE_3, SINGLE_FINE_4];
const SINGLE_SPIKES = [SINGLE_SPIKES_1, SINGLE_SPIKES_2, SINGLE_SPIKES_3, SINGLE_SPIKES_4];

const KERNEL_LEGEND = [
  { dash: [171, 193, 622], x: 197, y: 636, sub: "0,−10" },
  { dash: [678, 700, 626], x: 703, y: 640, sub: "0,−10" },
  { dash: [1177, 1200, 624], x: 1203, y: 642, sub: "0,−10" },
  { dash: [1664, 1689, 633], x: 1690, y: 651, sub: "0,β=10" },
];
const POP_LEGEND = [
  { o: [161, 184, 911], ix: 184, y: 925, k: [255, 277], ux: 280 },
  { o: [676, 698, 916], ix: 701, y: 929, k: [767, 790], ux: 793 },
  { o: [1159, 1184, 914], ix: 1185, y: 930, k: [1249, 1271], ux: 1275 },
  { o: [1661, 1684, 917], ix: 1689, y: 930, k: [1754, 1778], ux: 1782 },
];
const START_NOTES = [
  { x: 273, y: 1133, arrow: [310.6, 1073, 310.6, 1106] },
  { x: 894, y: 1034, arrow: [937.5, 1075, 937.5, 1043] },
  { x: 1260, y: 1131, arrow: [1332.5, 1076, 1332.5, 1109] },
  { x: 1868, y: 1038, arrow: [1848, 1076, 1896, 1052] },
];
const SINGLE_LEGEND = [
  { dash: [172, 195, 1229], x: 203, y: 1238, star: [432, 1227] },
  { dash: [681, 703, 1229], x: 713, y: 1238, star: [937.5, 1227] },
  { dash: [1169, 1192, 1229], x: 1200, y: 1237, star: [1422, 1227] },
  { dash: [1664, 1688, 1229], x: 1696, y: 1236, star: [1918, 1229] },
];

function Star({ cx, cy, r }) {
  const pts = [];
  for (let i = 0; i < 10; i++) {
    const a = -Math.PI / 2 + (i * Math.PI) / 5;
    const rr = i % 2 === 0 ? r : r * 0.38;
    pts.push(`${cx + rr * Math.cos(a)},${cy + rr * Math.sin(a)}`);
  }
  return <polygon points={pts.join(" ")} fill="#000" />;
}

const RING_POINTS = [[-31, 0], [-21, -12.5], [0, -18], [21, -12.5], [31, 0], [21, 12.5], [0, 18], [-21, 12.5]];
function Ring({ cx, cy }) {
  return (
    <g>
      <polygon
        points={RING_POINTS.map((p) => `${cx + p[0]},${cy + p[1]}`).join(" ")}
        fill="none"
        stroke="#000"
        strokeWidth={4.5}
      />
      {RING_POINTS.map((p, i) => (
        <circle key={i} cx={cx + p[0]} cy={cy + p[1]} r={5} fill="#000" />
      ))}
    </g>
  );
}

function Arrow({ a, headLen = 22, headW = 22, width = 4, color = "#000" }) {
  const [x1, y1, x2, y2] = a;
  const len = Math.hypot(x2 - x1, y2 - y1);
  const ux = (x2 - x1) / len;
  const uy = (y2 - y1) / len;
  const bx = x2 - ux * headLen;
  const by = y2 - uy * headLen;
  return (
    <g>
      <line x1={x1} y1={y1} x2={bx} y2={by} stroke={color} strokeWidth={width} />
      <polygon
        points={`${x2},${y2} ${bx - (uy * headW) / 2},${by + (ux * headW) / 2} ${bx + (uy * headW) / 2},${by - (ux * headW) / 2}`}
        fill={color}
      />
    </g>
  );
}

function Overlay() {
  return (
    <svg width={2041} height={1467} style={{ position: "absolute", left: 0, top: 0, pointerEvents: "none" }}>
      <defs>
        <filter id="soft" x="-20%" y="-20%" width="140%" height="140%">
          <feDropShadow dx="1" dy="3" stdDeviation="3" floodColor="#000" floodOpacity="0.4" />
        </filter>
      </defs>

      <g fill="#e4003a" fontFamily={SANS} fontSize={42}>
        <text x={637} y={-4}>p</text>
        <text x={1122} y={-4}>g</text>
        <text x={1471} y={-4}>g</text>
      </g>

      <circle cx={301} cy={54} r={46.5} fill="#a7a9a8" />
      <Arrow a={[301, 78, 301, 31]} headLen={25} headW={25} width={6} color={ORANGE} />

      {VERTEX_X.map((vx) => (
        <g key={vx}>
          <circle cx={vx - 24} cy={54} r={46.5} fill="#a7a9a8" />
          <circle cx={vx + 21} cy={55} r={46.5} fill="#a7a9a8" filter="url(#soft)" />
          <polygon points={`${vx - 18.5},36.7 ${vx - 16},17.3 ${vx - 1.7},29.3`} fill="#000" />
          <line x1={vx - 10} y1={28} x2={vx - 3} y2={20} stroke="#000" strokeWidth={8} />
          <path d={`M${vx + 4},14 Q${vx + 26},18 ${vx + 24},38`} fill="none" stroke="#000" strokeWidth={3.5} strokeDasharray="7 8" />
          <Arrow a={[vx, 55, vx - 56, 20.7]} headLen={28} headW={26} width={6.5} color={ORANGE} />
          <Arrow a={[vx, 55, vx + 56, 20.7]} headLen={28} headW={26} width={6.5} color={ORANGE} />
        </g>
      ))}

      {TITLES.map((t, i) => (
        <text key={i} x={TITLE_X[i]} y={153} textAnchor="middle" fontFamily={SANS} fontSize={38.5} fill="#111">
          {t}
        </text>
      ))}

      {HEAT_BOXES.map((b, i) => {
        const vx = b.x + ((CROSS_X[i] + 180) / 360) * b.w;
        const hy = b.y + ((CROSS_Y[i] + 180) / 360) * b.h;
        return (
          <g key={i}>
            <polyline points={`${vx - 20},${b.y - 27} ${vx},${b.y - 6} ${vx + 20},${b.y - 27}`} fill="none" stroke="#000" strokeWidth={9} />
            <line x1={vx} y1={b.y - 8} x2={vx} y2={b.y + 2} stroke="#000" strokeWidth={10} />
            <polyline points={`${b.x - 26},${hy - 20} ${b.x - 8},${hy} ${b.x - 26},${hy + 20}`} fill="none" stroke="#000" strokeWidth={9} />
            <line x1={b.x - 10} y1={hy} x2={b.x + 2} y2={hy} stroke="#000" strokeWidth={10} />
            <Star cx={b.x - 48} cy={hy - 1} r={26} />
            <Ring cx={RING_TOP[i][0]} cy={RING_TOP[i][1]} />
            <text x={XLABEL[i][0]} y={XLABEL[i][1]} textAnchor="middle" fontFamily={SANS} fontSize={29} fill={INK}>
              V.A Motion Direction
            </text>
            <text
              transform={`translate(${YLABEL[i][0]},${YLABEL[i][1]}) rotate(-90) scale(0.92,1)`}
              textAnchor="middle"
              fontFamily={SANS}
              fontSize={31}
              fill={INK}
            >
              MT Direction Preference
            </text>
          </g>
        );
      })}

      <text transform="translate(96,726) rotate(-90)" textAnchor="middle" fontFamily={SANS} fontSize={35} fill="#1c1c1c">Connectivity</text>
      <text transform="translate(97,1022) rotate(-90)" textAnchor="middle" fontFamily={SANS} fontSize={35} fill="#1c1c1c">MT population</text>
      <text transform="translate(99,1322) rotate(-90)" textAnchor="middle" fontFamily={SANS} fontSize={35} fill="#1c1c1c">MT single cell</text>

      {KERNEL_LEGEND.map((l, i) => (
        <g key={i}>
          <line x1={l.dash[0]} y1={l.dash[2]} x2={l.dash[1]} y2={l.dash[2]} stroke="#000" strokeWidth={6} />
          <text x={l.x} y={l.y} fontFamily={SERIF} fontSize={38} fill="#222">
            <tspan fontStyle="italic">J̃</tspan>
            <tspan fontSize={29} dy={8}>{l.sub}</tspan>
          </text>
        </g>
      ))}

      {POP_LEGEND.map((l, i) => (
        <g key={i}>
          <line x1={l.o[0]} y1={l.o[2]} x2={l.o[1]} y2={l.o[2]} stroke={ORANGE} strokeWidth={6} />
          <line x1={l.k[0]} y1={l.o[2]} x2={l.k[1]} y2={l.o[2]} stroke="#000" strokeWidth={6} />
          <text x={l.ix} y={l.y} fontFamily={SERIF} fontSize={42} fontStyle="italic" fill="#222">
            I<tspan fontSize={35} dy={9}>ext</tspan>
          </text>
          <text x={l.ux} y={l.y} fontFamily={SERIF} fontSize={39} fill="#222">
            <tspan fontStyle="italic">u</tspan>(<tspan fontStyle="italic">θ</tspan>, <tspan fontStyle="italic">t</tspan>)
          </text>
          <Ring cx={RING_POP[i][0]} cy={RING_POP[i][1]} />
        </g>
      ))}

      {START_NOTES.map((n, i) => (
        <g key={i}>
          <text x={n.x} y={n.y} fontFamily={SERIF} fontSize={34} fill="#222">
            <tspan fontStyle="italic">u</tspan>(<tspan fontStyle="italic">θ</tspan>,0)
          </text>
          <Arrow a={n.arrow} headLen={18} headW={18} width={3.5} />
        </g>
      ))}

      {SINGLE_LEGEND.map((l, i) => (
        <g key={i}>
          <line x1={l.dash[0]} y1={l.dash[2]} x2={l.dash[1]} y2={l.dash[2]} stroke="#000" strokeWidth={6} />
          <text x={l.x} y={l.y} fontFamily={SERIF} fontSize={38} fill="#222">
            <tspan fontStyle="italic">u</tspan>(0, <tspan fontStyle="italic">t</tspan>)
          </text>
          <Star cx={l.star[0]} cy={l.star[1]} r={26} />
        </g>
      ))}
    </svg>
  );
}

export default function App() {
  return (
    <div style={{ position: "absolute", left: 0, top: 0, width: 2041, height: 1467, overflow: "hidden", background: "#fff", fontFamily: SANS }}>
      {HEAT_BOXES.map((b, i) => (
        <HeatPanel key={i} box={b} profile={PROFILES[i]} wobble={WOBBLES[i]} streaks={STREAKS[i]} crossX={CROSS_X[i]} crossY={CROSS_Y[i]} />
      ))}
      {BAR_BOXES.map((b, i) => (
        <ColorBar key={i} box={b} />
      ))}
      {KERNEL_BOXES.map((b, i) => (
        <CurvePanel
          key={i}
          box={b}
          yDomain={[-0.5, 2]}
          yTicks={KERNEL_TICKS}
          fontSize={23}
          xMargin={7}
          curves={[{ data: series(KERNEL_THETA, KERNEL_CURVES[i]), color: "#000", width: 4, type: "monotone" }]}
        />
      ))}
      {POP_BOXES.map((b, i) => (
        <CurvePanel
          key={i}
          box={b}
          yDomain={[-0.5, 1.5]}
          yTicks={ACTIVITY_TICKS}
          fontSize={23}
          xMargin={8}
          curves={[
            { data: series(INPUTS[i][0], INPUTS[i][1]), color: ORANGE, width: 4.5, type: "monotone" },
            i === 1
              ? { data: noisy(START_NOISY, START_NOISY_FINE, []), color: GRAY_LINE, width: 3.5 }
              : { data: series(START_THETA, START_VALUES), color: GRAY_LINE, width: 2.5, type: "monotone" },
            { data: noisy(POPULATIONS[i], POPULATIONS_FINE[i], POP_SPIKES[i]), color: "#000", width: 5.5 },
          ]}
        />
      ))}
      {SINGLE_BOXES.map((b, i) => (
        <CurvePanel
          key={i}
          box={b}
          yDomain={[-0.5, 1.5]}
          yTicks={i === 0 ? ACTIVITY_TICKS_CUT : ACTIVITY_TICKS}
          fontSize={23}
          xMargin={8}
          curves={[{ data: noisy(SINGLES[i], SINGLES_FINE[i], SINGLE_SPIKES[i]), color: "#000", width: 5.2 }]}
        />
      ))}
      <Overlay />
    </div>
  );
}
